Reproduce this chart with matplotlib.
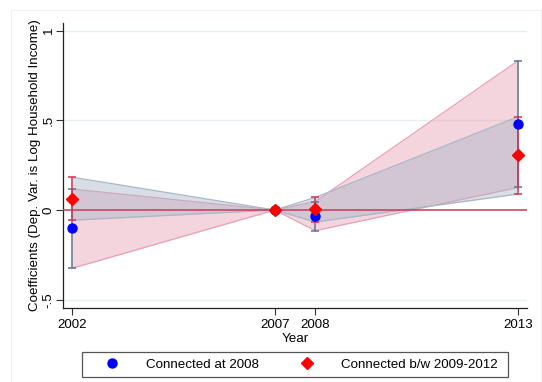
import matplotlib
matplotlib.use("Agg")
import matplotlib.pyplot as plt
from matplotlib.lines import Line2D
from matplotlib.patches import Rectangle

plt.rcParams['font.family'] = ['Liberation Sans', 'DejaVu Sans']

years = [2002, 2007, 2008, 2013]

# Connected at 2008
conn_2008 = [-0.103, 0.0, -0.035, 0.479]
conn_2008_lo = [-0.325, 0.0, -0.115, 0.126]
conn_2008_hi = [0.117, 0.0, 0.047, 0.832]

# Connected between 2009 and 2012
conn_0912 = [0.063, 0.0, 0.004, 0.305]
conn_0912_lo = [-0.057, 0.0, -0.067, 0.089]
conn_0912_hi = [0.183, 0.0, 0.070, 0.520]

yticks = [-0.5, 0, 0.5, 1]
ytick_labels = ["-.5", "0", ".5", "1"]

BLUE = "#0000ff"
RED = "#ff0000"
NAVY_CI = "#5d7494"
CRIM_CI = "#d2345a"
PINK_FILL = "#e8a0b4"
GREY_FILL = "#a8b6c6"
FS = 9.6

W, H = 542, 382
fig = plt.figure(figsize=(W / 100, H / 100), dpi=100)
fig.patches.append(Rectangle((11 / W, 0), 530 / W, 1 - 10 / H,
                             transform=fig.transFigure, fill=False,
                             edgecolor="#f0f0f0", linewidth=0.8))
ax = fig.add_axes([63 / W, 1 - 308 / H, 464 / W, 285 / H])

# confidence bands
ax.fill_between(years, conn_2008_lo, conn_2008_hi, color=PINK_FILL,
                alpha=0.45, linewidth=0, zorder=2)
ax.plot(years, conn_2008_lo, color=PINK_FILL, lw=0.9, zorder=2)
ax.plot(years, conn_2008_hi, color=PINK_FILL, lw=0.9, zorder=2)
ax.fill_between(years, conn_0912_lo, conn_0912_hi, color=GREY_FILL,
                alpha=0.45, linewidth=0, zorder=2)
ax.plot(years, conn_0912_lo, color=GREY_FILL, lw=0.9, zorder=2)
ax.plot(years, conn_0912_hi, color=GREY_FILL, lw=0.9, zorder=2)

# gridlines and zero reference line
for yv in [-0.5, 0.5, 1.0]:
    ax.axhline(yv, color="#e6eef2", lw=1.0, zorder=1)
ax.axhline(0, color="#c8385a", lw=1.1, zorder=3)

# confidence-interval caps
def caps(x, lo, hi, c, w):
    ax.vlines(x, lo, hi, color=c, lw=1.1, zorder=4)
    ax.hlines(lo, [v - w for v in x], [v + w for v in x], color=c, lw=1.1, zorder=4)
    ax.hlines(hi, [v - w for v in x], [v + w for v in x], color=c, lw=1.1, zorder=4)

caps(years, conn_2008_lo, conn_2008_hi, NAVY_CI, 0.1)
caps(years, conn_0912_lo, conn_0912_hi, CRIM_CI, 0.1)

ax.plot(years, conn_2008, "o", color=BLUE, ms=6.5, mec=BLUE, zorder=5)
ax.plot(years, conn_0912, "D", color=RED, ms=6.5, mec=RED, zorder=6)

ax.set_xlim(2001.78, 2013.22)
ax.set_ylim(-0.546, 1.042)
ax.set_xticks(years)
ax.set_xticklabels([str(y) for y in years], fontsize=FS)
ax.set_yticks(yticks)
ax.set_yticklabels(ytick_labels, fontsize=FS, rotation=90, va="center")
ax.tick_params(axis="both", direction="out", length=5, width=0.8, color="#333333")
ax.tick_params(axis="x", pad=3)
ax.tick_params(axis="y", pad=1)
for s in ["top", "right"]:
    ax.spines[s].set_visible(False)
for s in ["left", "bottom"]:
    ax.spines[s].set_color("#222222")
    ax.spines[s].set_linewidth(0.9)

ax.set_xlabel("Year", fontsize=FS, labelpad=1)
ax.set_ylabel("Coefficients (Dep. Var. is Log Household Income)", fontsize=FS, labelpad=1)

# legend with a plain rectangular frame below the plot
fig.patches.append(Rectangle((82 / W, 1 - 377 / H), 426 / W, 25 / H,
                             transform=fig.transFigure, fill=False,
                             edgecolor="#555555", linewidth=0.9))
handles = [
    Line2D([], [], marker="o", color=BLUE, ls="none", ms=6.5),
    Line2D([], [], marker="D", color=RED, ls="none", ms=6.5),
]
fig.legend(handles, ["Connected at 2008", "Connected b/w 2009-2012"],
           loc="center left", bbox_to_anchor=(98.7 / W, 1 - 364.5 / H),
           ncol=2, fontsize=FS, frameon=False, handlelength=2.0,
           handletextpad=1.55, borderpad=0, borderaxespad=0, columnspacing=2.6)

fig.savefig("out.png", dpi=100)
